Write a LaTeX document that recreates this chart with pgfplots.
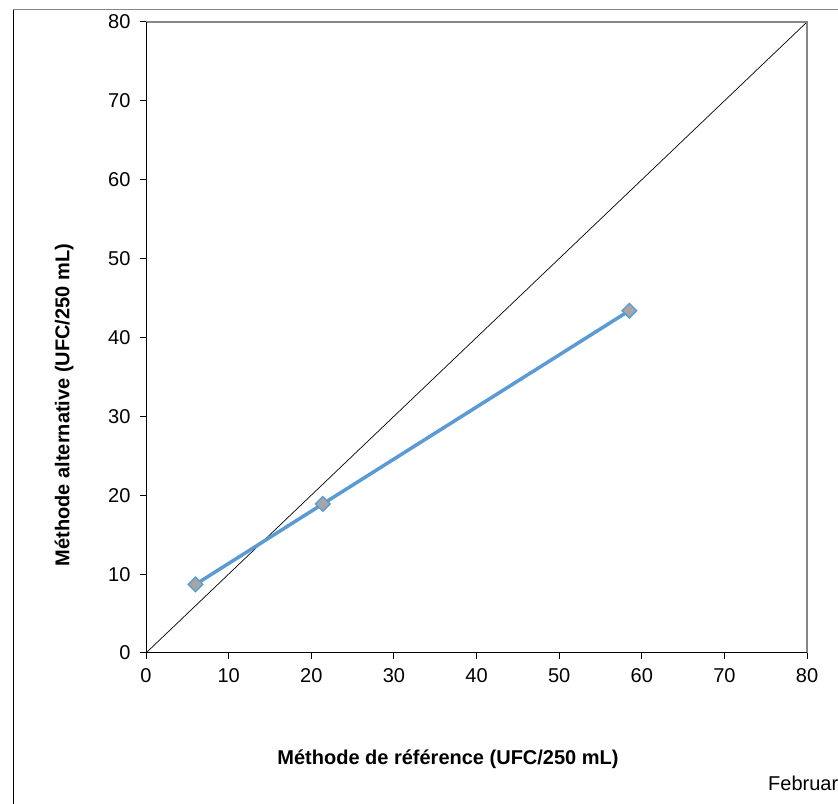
\documentclass[border=0pt]{standalone}
\usepackage{fontspec}
\setmainfont{Liberation Sans}
\usepackage{pgfplots}
\pgfplotsset{compat=1.18}
\definecolor{serblue}{HTML}{5B9BD5}
\definecolor{mkgray}{HTML}{A5A5A5}
\definecolor{bordergray}{HTML}{868686}
\begin{document}
\begin{tikzpicture}[x=1bp,y=1bp]
\useasboundingbox (0,0) rectangle (838,804);
\clip (0,0) rectangle (838,804);
\draw[bordergray, line width=1bp] (13,794) -- (838,794);
\draw[black, line width=1bp] (13,794) -- (13,0);
\begin{axis}[
  at={(146bp,151bp)}, anchor=south west,
  scale only axis, width=661bp, height=631bp,
  xmin=0, xmax=80, ymin=0, ymax=80,
  xtick={0,10,...,80}, ytick={0,10,...,80},
  xtick pos=bottom, ytick pos=left,
  tick align=outside,
  major tick length=6bp,
  every tick/.style={black, line width=1bp},
  axis line style={draw=none},
  /pgf/number format/assume math mode=true,
  every tick label/.append style={font=\fontsize{20bp}{24bp}\selectfont},
  xticklabel style={yshift=-6bp},
  yticklabel style={xshift=-6bp},
  clip=false,
]
\addplot[black, line width=0.7bp, forget plot] coordinates {(0,0) (80,80)};
\addplot[serblue, line width=3.5bp, mark=square*,
  mark size=5.2bp,
  mark options={rotate=45, fill=mkgray, draw=serblue, line width=1.3bp}]
  coordinates {(6,8.7) (21.4,18.9) (58.5,43.4)};
\draw[bordergray, line width=2bp] (rel axis cs:0,1) -- (rel axis cs:1,1) -- (rel axis cs:1,0);
\draw[black, line width=1bp] (rel axis cs:0,1) -- (rel axis cs:0,0) -- (rel axis cs:1,0);
\end{axis}
\node[rotate=90, font=\fontsize{20bp}{24bp}\selectfont\bfseries] at (64,399) {Méthode alternative (UFC/250 mL)};
\node[font=\fontsize{20bp}{24bp}\selectfont\bfseries] at (448,45) {Méthode de référence (UFC/250 mL)};
\node[anchor=west, inner sep=0pt, font=\fontsize{20bp}{24bp}\selectfont] at (768,21) {Februar};
\end{tikzpicture}
\end{document}
